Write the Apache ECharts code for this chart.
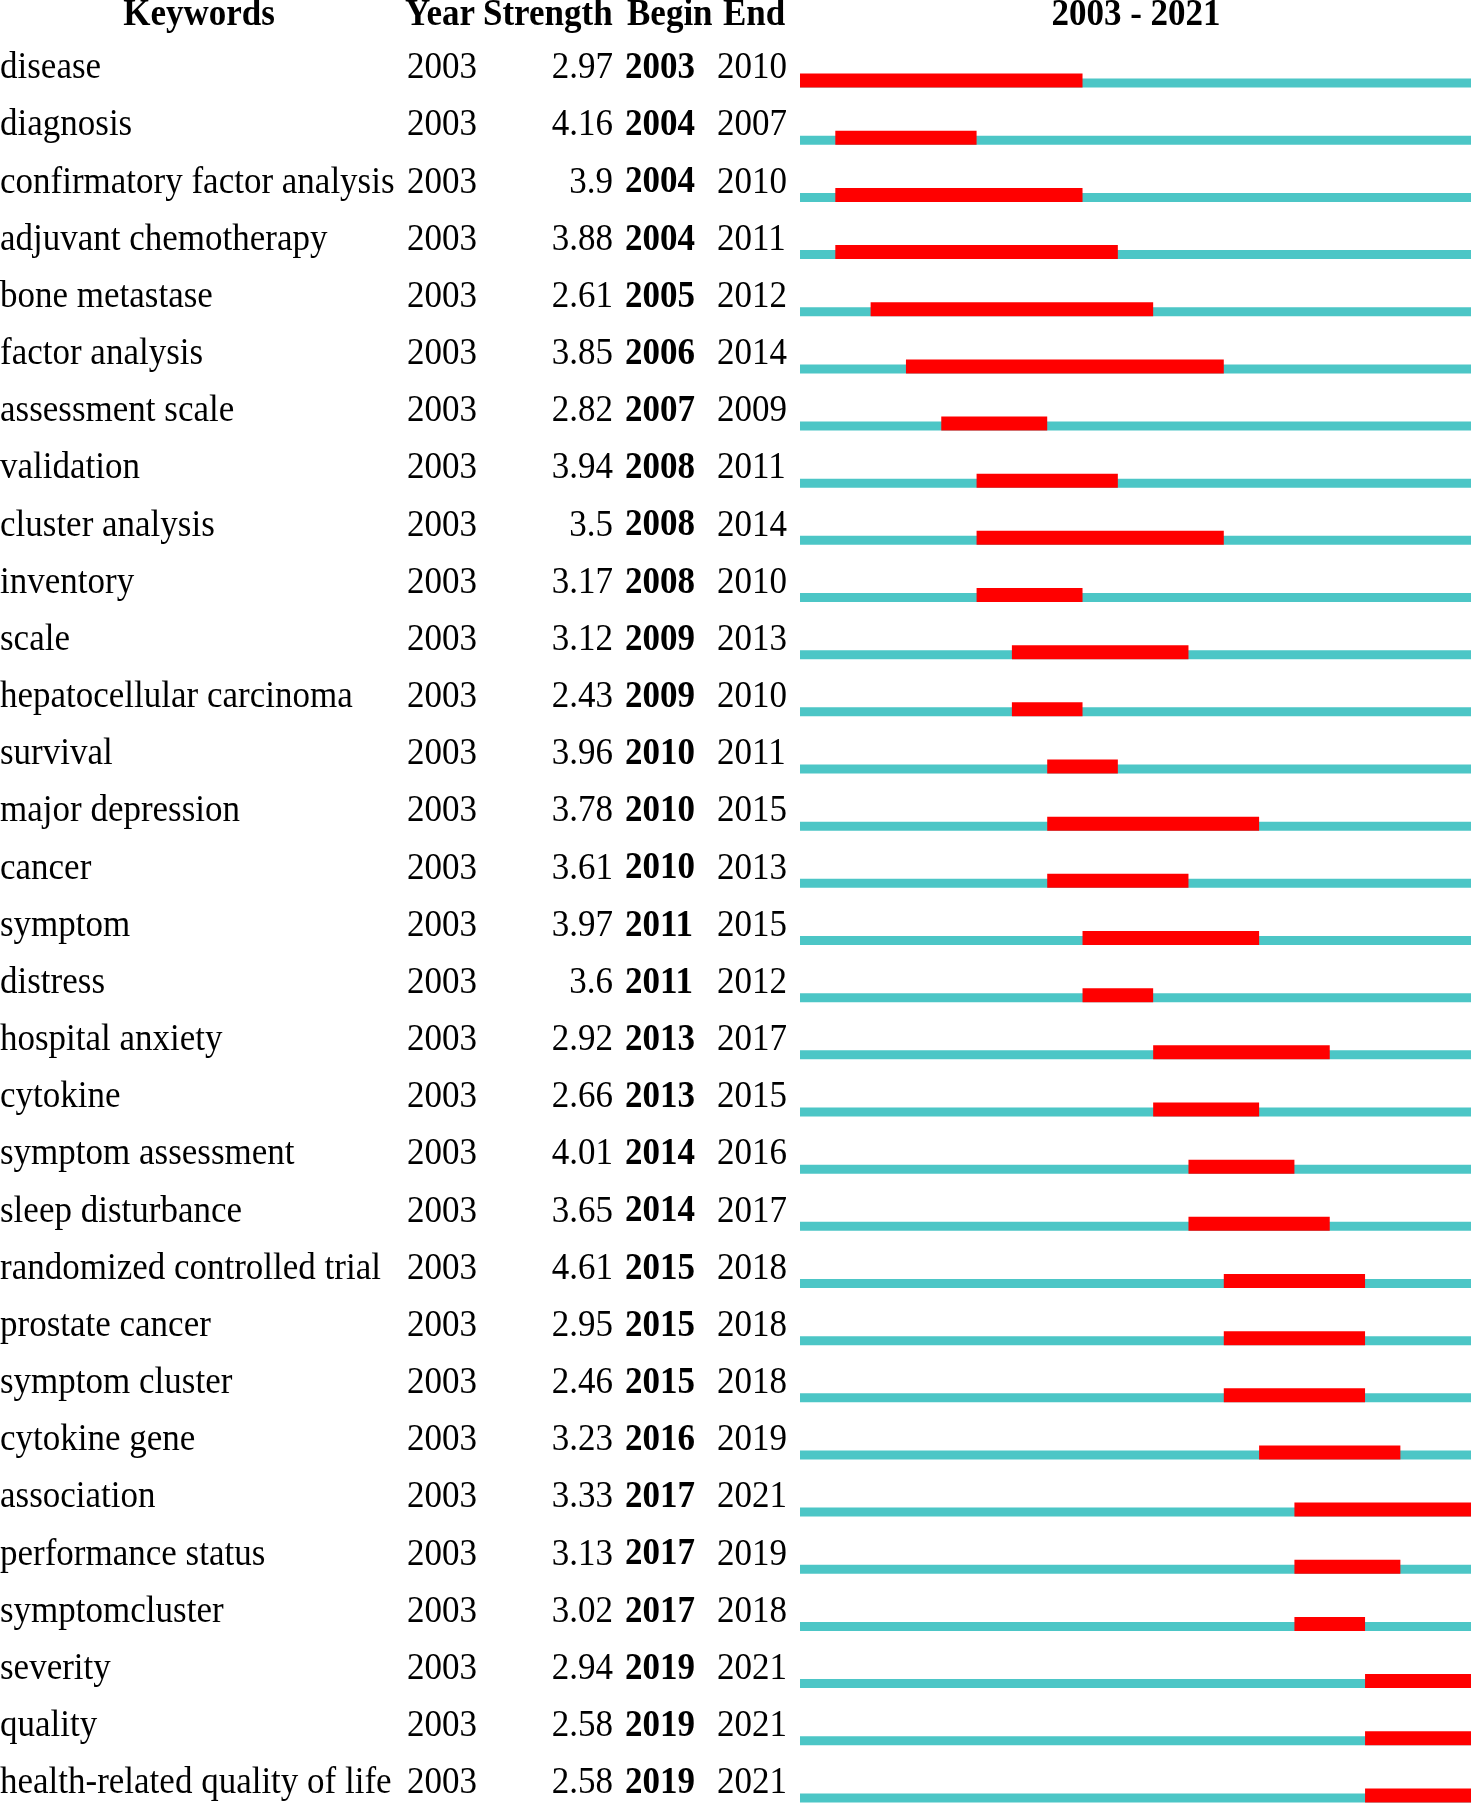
<!DOCTYPE html>
<html>
<head>
<meta charset="utf-8">
<script src="https://cdn.jsdelivr.net/npm/echarts@6/dist/echarts.min.js"></script>
<style>
  html, body { margin: 0; padding: 0; background: #fff; }
  #burst { width: 1471px; height: 1810px; }
</style>
</head>
<body>
<div id="burst"></div>
<script>
// keyword bursts, 2003 - 2021
var keywords = [
  'disease', 'diagnosis', 'confirmatory factor analysis', 'adjuvant chemotherapy',
  'bone metastase', 'factor analysis', 'assessment scale', 'validation',
  'cluster analysis', 'inventory', 'scale', 'hepatocellular carcinoma',
  'survival', 'major depression', 'cancer', 'symptom', 'distress',
  'hospital anxiety', 'cytokine', 'symptom assessment', 'sleep disturbance',
  'randomized controlled trial', 'prostate cancer', 'symptom cluster',
  'cytokine gene', 'association', 'performance status', 'symptomcluster',
  'severity', 'quality', 'health-related quality of life'
];
var years = [
  2003, 2003, 2003, 2003, 2003, 2003, 2003, 2003, 2003, 2003, 2003,
  2003, 2003, 2003, 2003, 2003, 2003, 2003, 2003, 2003, 2003, 2003,
  2003, 2003, 2003, 2003, 2003, 2003, 2003, 2003, 2003
];
var strengths = [
  2.97, 4.16, 3.9, 3.88, 2.61, 3.85, 2.82, 3.94, 3.5, 3.17, 3.12,
  2.43, 3.96, 3.78, 3.61, 3.97, 3.6, 2.92, 2.66, 4.01, 3.65, 4.61,
  2.95, 2.46, 3.23, 3.33, 3.13, 3.02, 2.94, 2.58, 2.58
];
var begins = [
  2003, 2004, 2004, 2004, 2005, 2006, 2007, 2008, 2008, 2008, 2009,
  2009, 2010, 2010, 2010, 2011, 2011, 2013, 2013, 2014, 2014, 2015,
  2015, 2015, 2016, 2017, 2017, 2017, 2019, 2019, 2019
];
var ends = [
  2010, 2007, 2010, 2011, 2012, 2014, 2009, 2011, 2014, 2010, 2013,
  2010, 2011, 2015, 2013, 2015, 2012, 2017, 2015, 2016, 2017, 2018,
  2018, 2018, 2019, 2021, 2019, 2018, 2021, 2021, 2021
];
var firstYear = 2003;
var lastYear = 2021;

var myChart = echarts.init(document.getElementById('burst'));

var rows = keywords.map(function (k, i) {
  return [i, begins[i], ends[i], years[i], strengths[i]];
});

var FONT = '"Liberation Serif", "Times New Roman", serif';
var FS = 35;

// text centred on y, stretched a little vertically like the original
function txt(x, y, s, align, bold) {
  return {
    type: 'text',
    x: x, y: y,
    scaleY: 1.06,
    style: {
      x: 0, y: 0, text: String(s),
      fill: '#000',
      font: (bold ? 'bold ' : '') + FS + 'px ' + FONT,
      align: align, verticalAlign: 'middle'
    }
  };
}

var option = {
  animation: false,
  backgroundColor: '#fff',
  grid: { left: 800, right: 0, top: 38, height: 1780, containLabel: false },
  xAxis: { type: 'value', min: firstYear, max: lastYear + 1, show: false },
  yAxis: { type: 'category', data: keywords, inverse: true, show: false },
  graphic: [
    txt(199, 15, 'Keywords', 'center', true),
    txt(405, 15, 'Year', 'left', true),
    txt(483, 15, 'Strength', 'left', true),
    txt(627, 15, 'Begin', 'left', true),
    txt(723, 15, 'End', 'left', true),
    txt(1136, 15, firstYear + ' - ' + lastYear, 'center', true)
  ],
  series: [
    {
      // timeline bars
      type: 'custom',
      data: rows,
      encode: { x: [1, 2], y: 0 },
      renderItem: function (params, api) {
        var row = api.value(0);
        var a = api.coord([firstYear, row]);
        var z = api.coord([lastYear + 1, row]);
        var r0 = api.coord([api.value(1), row]);
        var r1 = api.coord([api.value(2) + 1, row]);
        var base = a[1] + 21;
        return {
          type: 'group',
          children: [
            { type: 'rect', shape: { x: a[0], y: base - 9, width: z[0] - a[0], height: 9 },
              style: { fill: '#4CC6C6' } },
            { type: 'rect', shape: { x: r0[0], y: base - 14, width: r1[0] - r0[0], height: 14 },
              style: { fill: '#FF0000' } }
          ]
        };
      }
    },
    {
      // table columns
      type: 'custom',
      data: rows,
      encode: { x: 1, y: 0 },
      renderItem: function (params, api) {
        var i = params.dataIndex;
        var y = api.coord([firstYear, api.value(0)])[1] + 2;
        return {
          type: 'group',
          children: [
            txt(0, y, keywords[i], 'left', false),
            txt(407, y, years[i], 'left', false),
            txt(613, y, strengths[i], 'right', false),
            txt(625, y, begins[i], 'left', true),
            txt(717, y, ends[i], 'left', false)
          ]
        };
      }
    }
  ]
};

option && myChart.setOption(option);
</script>
</body>
</html>
